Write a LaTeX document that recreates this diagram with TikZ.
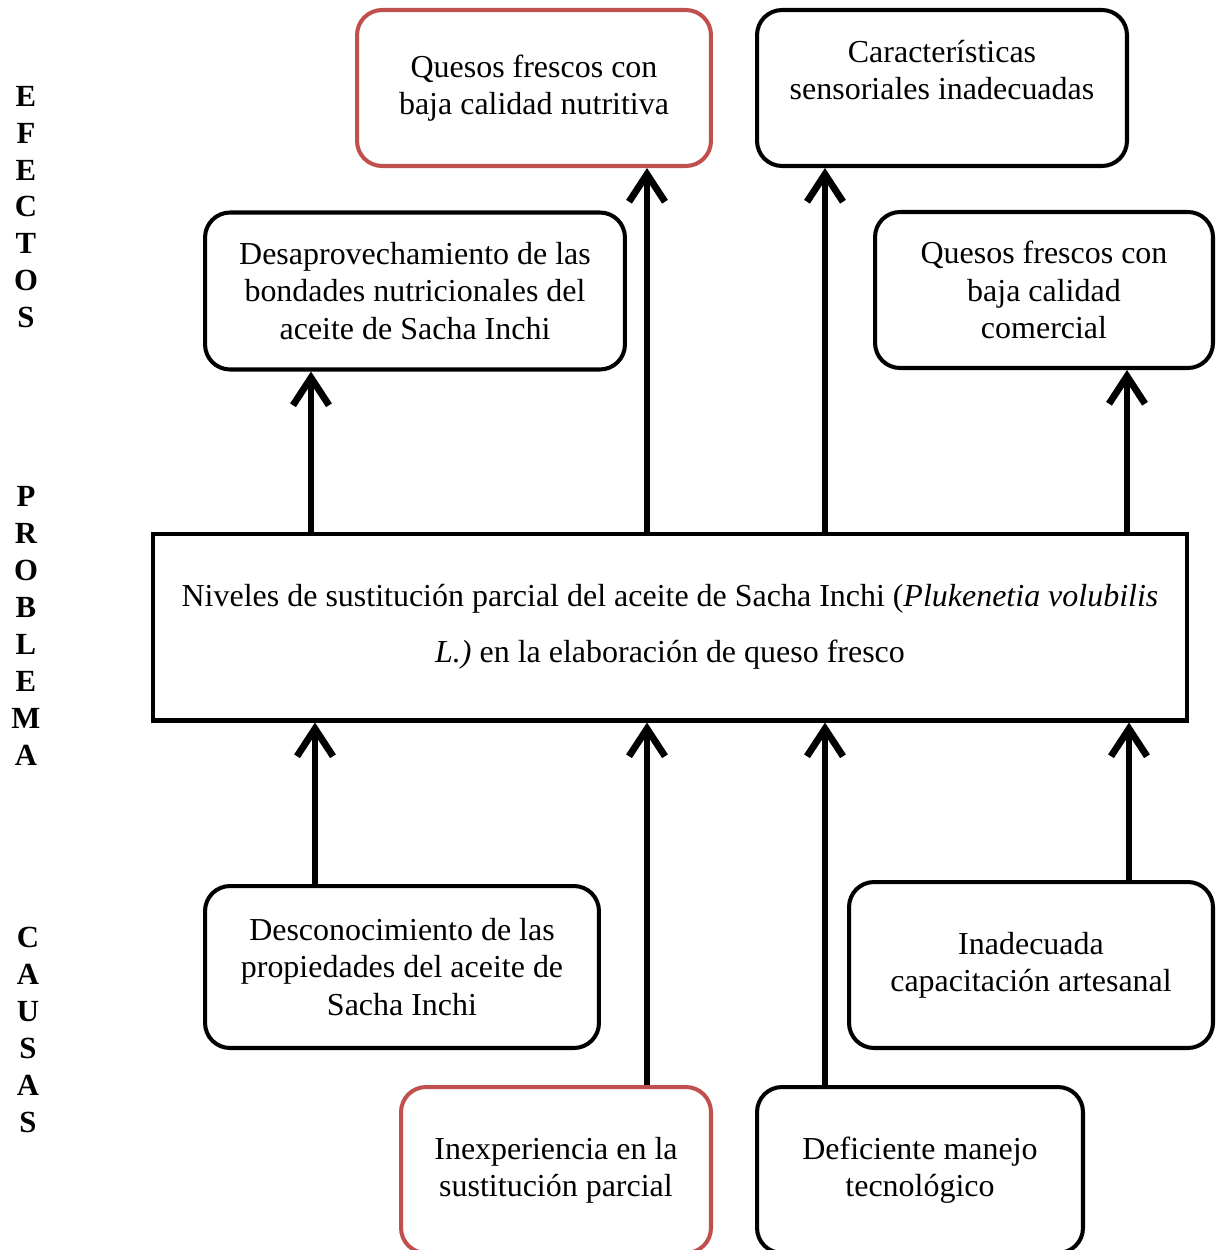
\documentclass[tikz,border=0pt]{standalone}
\usepackage{fontspec}
\setmainfont{Liberation Serif}
\usetikzlibrary{arrows.meta,positioning}
\definecolor{rust}{RGB}{192,80,77}
\definecolor{ink}{RGB}{0,0,0}
\tikzset{
  >={Straight Barb[length=5.5mm,width=7.2mm]},
  box/.style={draw=#1,line width=2.3pt,rounded corners=5mm,align=center,
    font=\fontsize{18.2}{21.2}\selectfont,inner sep=0pt},
  box/.default=ink,
  txt/.style={align=center,font=\fontsize{18.2}{21.2}\selectfont},
  flow/.style={->,line width=3.9pt,draw=ink},
  side/.style={font=\fontsize{17.5}{21}\selectfont\bfseries,align=center},
}
\begin{document}
\begin{tikzpicture}[x=0.02cm,y=-0.02cm]
  \useasboundingbox (0,0) rectangle (1219,1250);
  % side titles
  \node[side] (efectos) at (26,207) {E\\F\\E\\C\\T\\O\\S};
  \node[side] (problema) at (26,626) {P\\R\\O\\B\\L\\E\\M\\A};
  \node[side] (causas) at (28,1030) {C\\A\\U\\S\\A\\S};
  % effects
  \node[box=rust,minimum width=7.08cm,minimum height=3.12cm] (nutri) at (534,88)
    {Quesos frescos con\\baja calidad nutritiva};
  \node[box,minimum width=7.4cm,minimum height=3.12cm] (sens) at (942,88) {};
  \node[txt] (senstxt) at ([yshift=0.36cm]sens.center) {Características\\sensoriales inadecuadas};
  \node[box,minimum width=8.4cm,minimum height=3.14cm] (desap) at (415,291)
    {Desaprovechamiento de las\\bondades nutricionales del\\aceite de Sacha Inchi};
  \node[box,minimum width=6.76cm,minimum height=3.12cm] (comer) at (1044,290)
    {Quesos frescos con\\baja calidad\\comercial};
  % problem
  \node[box,sharp corners,minimum width=20.68cm,minimum height=3.74cm,
    font=\fontsize{18.2}{32}\selectfont] (prob) at (670,627)
    {Niveles de sustitución parcial del aceite de Sacha Inchi (\textit{Plukenetia volubilis}\\
     \textit{L.)} en la elaboración de queso fresco};
  % causes
  \node[box,minimum width=7.88cm,minimum height=3.24cm] (desc) at (402,967)
    {Desconocimiento de las\\propiedades del aceite de\\Sacha Inchi};
  \node[box,minimum width=7.28cm,minimum height=3.32cm] (capa) at (1031,965)
    {Inadecuada\\capacitación artesanal};
  \node[box=rust,minimum width=6.2cm,minimum height=3.32cm] (inex) at (556,1170)
    {Inexperiencia en la\\sustitución parcial};
  \node[box,minimum width=6.52cm,minimum height=3.32cm] (manejo) at (920,1170)
    {Deficiente manejo\\tecnológico};
  % arrows
  \coordinate (t1) at (311,0);
  \coordinate (t2) at (647,0);
  \coordinate (t3) at (825,0);
  \coordinate (t4) at (1127,0);
  \coordinate (b1) at (315,0);
  \coordinate (b4) at (1129,0);
  \draw[flow] (t1 |- prob.north) -- (t1 |- desap.south);
  \draw[flow] (t2 |- prob.north) -- (t2 |- nutri.south);
  \draw[flow] (t3 |- prob.north) -- (t3 |- sens.south);
  \draw[flow] (t4 |- prob.north) -- (t4 |- comer.south);
  \draw[flow] (b1 |- desc.north) -- (b1 |- prob.south);
  \draw[flow] (t2 |- inex.north) -- (t2 |- prob.south);
  \draw[flow] (t3 |- manejo.north) -- (t3 |- prob.south);
  \draw[flow] (b4 |- capa.north) -- (b4 |- prob.south);
\end{tikzpicture}
\end{document}
